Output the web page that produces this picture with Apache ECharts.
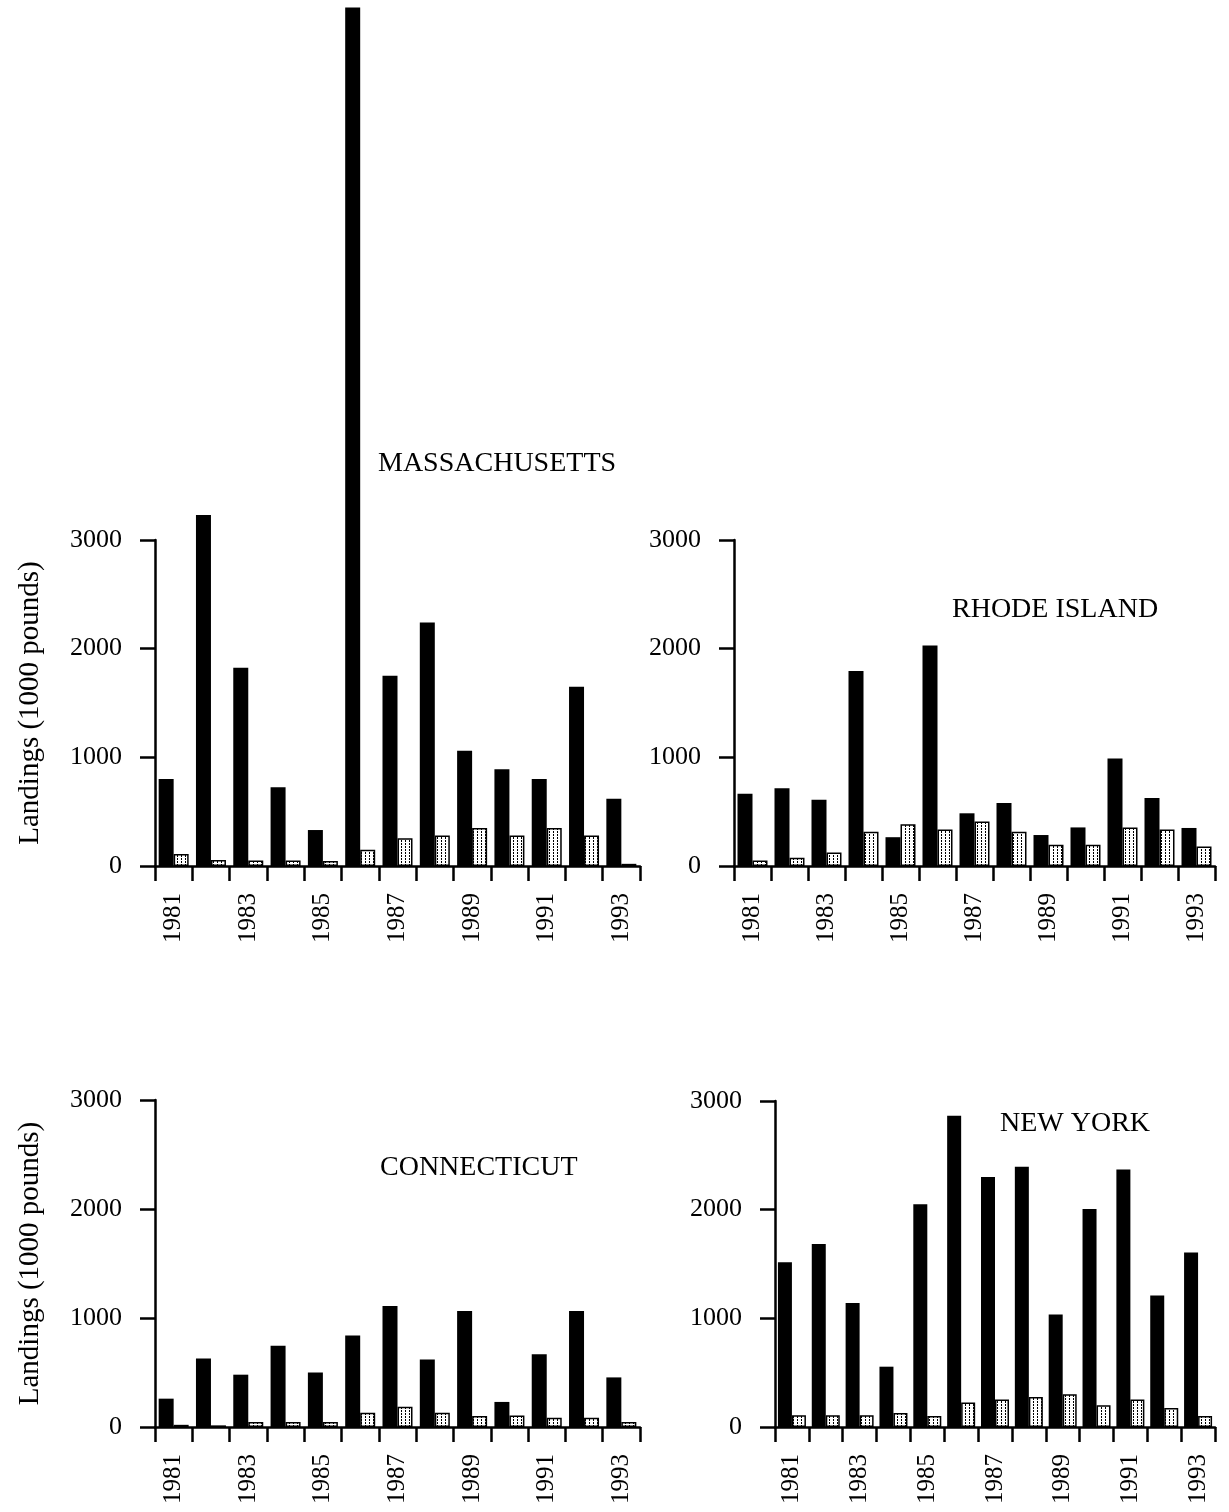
<!DOCTYPE html>
<html>
<head>
<meta charset="utf-8">
<script src="https://cdn.jsdelivr.net/npm/echarts@6/dist/echarts.min.js"></script>
<style>
  html, body { margin: 0; padding: 0; background: #fff; }
  #chart { width: 1229px; height: 1512px; }
</style>
</head>
<body>
<div id="chart"></div>
<script>
// ---- Data (landings, 1000 pounds) ----
const years = ['1981','1982','1983','1984','1985','1986','1987','1988','1989','1990','1991','1992','1993'];
const yTicks = [0, 1000, 2000, 3000];

const maBlack   = [800, 3230, 1825, 724, 331, 7900, 1750, 2240, 1060, 890, 800, 1650, 620];
const maPattern = [110, 55, 50, 50, 45, 150, 255, 280, 350, 280, 350, 280, 20];

const riBlack   = [665, 715, 610, 1795, 265, 2030, 485, 580, 285, 355, 990, 625, 350];
const riPattern = [50, 75, 125, 315, 385, 335, 410, 315, 195, 195, 355, 335, 180];

const ctBlack   = [260, 628, 480, 745, 500, 840, 1110, 620, 1065, 230, 668, 1065, 455];
const ctPattern = [20, 15, 45, 45, 45, 130, 185, 130, 100, 105, 85, 85, 45];

const nyBlack   = [1515, 1685, 1140, 555, 2050, 2865, 2300, 2395, 1035, 2005, 2370, 1210, 1605];
const nyPattern = [108, 108, 108, 128, 102, 225, 252, 277, 302, 200, 252, 175, 102];

const stateNames = ['MASSACHUSETTS', 'RHODE ISLAND', 'CONNECTICUT', 'NEW YORK'];
const yName = 'Landings (1000 pounds)';

// ---- Styling ----
const FONT = "'Liberation Serif', 'DejaVu Serif', serif";

function makePattern() {
  const c = document.createElement('canvas');
  c.width = 4; c.height = 3;
  const g = c.getContext('2d');
  g.fillStyle = '#fff'; g.fillRect(0, 0, 4, 3);
  g.fillStyle = '#000';
  g.fillRect(1, 0, 1, 2);
  return { image: c, repeat: 'repeat' };
}
const pattern = makePattern();

const panels = [
  { black: maBlack, pat: maPattern, grid: { left: 155, top: 540, width: 485, height: 326 }, name: true,  bw: 15, title: { left: 373, top: 445 } },
  { black: riBlack, pat: riPattern, grid: { left: 734, top: 540, width: 481, height: 326 }, name: false, bw: 15, title: { left: 947, top: 591 } },
  { black: ctBlack, pat: ctPattern, grid: { left: 155, top: 1100, width: 485, height: 327 }, name: true, bw: 15, title: { left: 375, top: 1149 } },
  { black: nyBlack, pat: nyPattern, grid: { left: 775, top: 1101, width: 440, height: 326 }, name: false, bw: 14, title: { left: 995, top: 1105 } }
];

const grids = [], xAxes = [], yAxes = [], series = [], titles = [];
panels.forEach((p, i) => {
  grids.push(Object.assign({ containLabel: false }, p.grid));
  xAxes.push({
    type: 'category', gridIndex: i, data: years,
    boundaryGap: true,
    axisLine: { show: true, lineStyle: { color: '#000', width: 2.5 } },
    axisTick: { show: true, interval: 0, length: 15, lineStyle: { color: '#000', width: 2.5 } },
    axisLabel: { interval: 1, rotate: 90, margin: 27, color: '#000', fontSize: 25, fontFamily: FONT }
  });
  yAxes.push({
    type: 'value', gridIndex: i, min: yTicks[0], max: yTicks[yTicks.length - 1], interval: 1000,
    name: p.name ? yName : '',
    nameLocation: 'middle', nameGap: 110, nameRotate: 90,
    nameTextStyle: { color: '#000', fontSize: 29, fontFamily: FONT },
    axisLine: { show: true, lineStyle: { color: '#000', width: 2.5 } },
    axisTick: { show: true, length: 15, lineStyle: { color: '#000', width: 2.5 } },
    splitLine: { show: false },
    axisLabel: { margin: 33, color: '#000', fontSize: 26, fontFamily: FONT, formatter: v => String(v) }
  });
  series.push({
    type: 'bar', xAxisIndex: i, yAxisIndex: i, data: p.black,
    barWidth: p.bw, barGap: '0%', clip: false,
    itemStyle: { color: '#000' }, silent: true
  });
  series.push({
    type: 'bar', xAxisIndex: i, yAxisIndex: i, data: p.pat,
    barWidth: p.bw, barGap: '0%', clip: false,
    itemStyle: { color: pattern, borderColor: '#000', borderWidth: 1.5 }, silent: true
  });
  titles.push({
    text: stateNames[i], left: p.title.left, top: p.title.top,
    textStyle: { color: '#000', fontSize: 28, fontWeight: 'normal', fontFamily: FONT }
  });
});

const chart = echarts.init(document.getElementById('chart'), null, { renderer: 'canvas' });
chart.setOption({
  backgroundColor: '#fff',
  animation: false,
  title: titles,
  grid: grids,
  xAxis: xAxes,
  yAxis: yAxes,
  series: series
});
</script>
</body>
</html>
